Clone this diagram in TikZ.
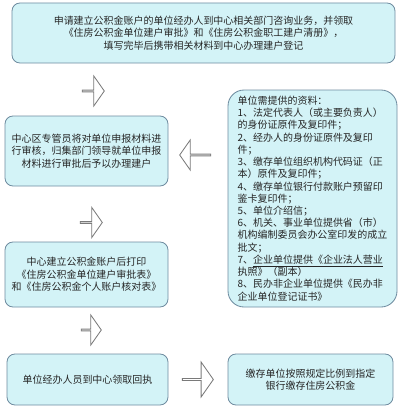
\documentclass[tikz,border=0pt]{standalone}
\usepackage{fontspec}
\newfontfamily\cjk{Noto Sans CJK SC}
\usetikzlibrary{shapes.arrows}
\definecolor{boxfill}{HTML}{D3F3F7}
\definecolor{boxline}{HTML}{6F8CA0}
\definecolor{arrowline}{HTML}{7A7A7A}
\begin{document}
\begin{tikzpicture}[
  stepbox/.style={draw=boxline, fill=boxfill, line width=0.6pt, rounded corners=0.2cm, align=center, inner sep=0pt, text=black!85, font=\cjk\fontsize{7.1}{8.9}\selectfont},
  hollow/.style={single arrow, draw=arrowline, fill=white, line width=0.6pt, inner sep=0pt, minimum width=0.75cm, single arrow head extend=0.17cm, single arrow tip angle=110}]
  \useasboundingbox (0,0) rectangle (10,-10.275);
  \node[stepbox, minimum width=9.575cm, minimum height=1.5cm] at (5.0875,-0.825) (apply) {申请建立公积金账户的单位经办人到中心相关部门咨询业务，并领取\\《住房公积金单位建户审批》和《住房公积金职工建户清册》，\\填写完毕后携带相关材料到中心办理建户登记};
  \node[stepbox, minimum width=4.075cm, minimum height=1.75cm] at (2.1625,-3.775) (review) {中心区专管员将对单位申报材料进\\行审核，归集部门领导就单位申报\\材料进行审批后予以办理建户};
  \node[stepbox, minimum width=4.225cm, minimum height=5.425cm, rounded corners=0.4cm, align=left, font=\cjk\fontsize{7.1}{8.7}\selectfont] at (7.8125,-4.9625) (docs) {单位需提供的资料：\\1、法定代表人（或主要负责人）\\的身份证原件及复印件；\\2、经办人的身份证原件及复印\\件；\\3、缴存单位组织机构代码证（正\\本）原件及复印件；\\4、缴存单位银行付款账户预留印\\鉴卡复印件；\\5、单位介绍信；\\6、机关、事业单位提供省（市）\\机构编制委员会办公室印发的成立\\批文；\\7、\underline{企业单位提供《企业法人营业}\\执照》（副本）\\8、民办非企业单位提供《民办非\\企业单位登记证书》};
  \node[stepbox, minimum width=4.075cm, minimum height=1.625cm] at (2.1625,-6.8625) (print) {中心建立公积金账户后打印\\《住房公积金单位建户审批表》\\和《住房公积金个人账户核对表》};
  \node[stepbox, minimum width=4.025cm, minimum height=1.275cm] at (2.1875,-9.4875) (receipt) {单位经办人员到中心领取回执};
  \node[stepbox, minimum width=4.125cm, minimum height=1.275cm] at (7.7625,-9.4875) (deposit) {缴存单位按照规定比例到指定\\银行缴存住房公积金};
  % Arrows
  \node[hollow, minimum height=0.55cm, shape border rotate=-90] at (2.325,-2.275) (down1) {};
  \node[hollow, minimum height=0.775cm, shape border rotate=180] at (4.8875,-3.875) (left1) {};
  \node[hollow, minimum height=0.55cm, shape border rotate=-90] at (2.275,-5.5625) (down2) {};
  \node[hollow, minimum height=0.5cm, shape border rotate=-90] at (2.275,-8.25) (down3) {};
  \node[hollow, minimum height=0.775cm, minimum width=0.875cm, shape border rotate=0] at (4.9375,-9.4875) (right1) {};
\end{tikzpicture}
\end{document}
